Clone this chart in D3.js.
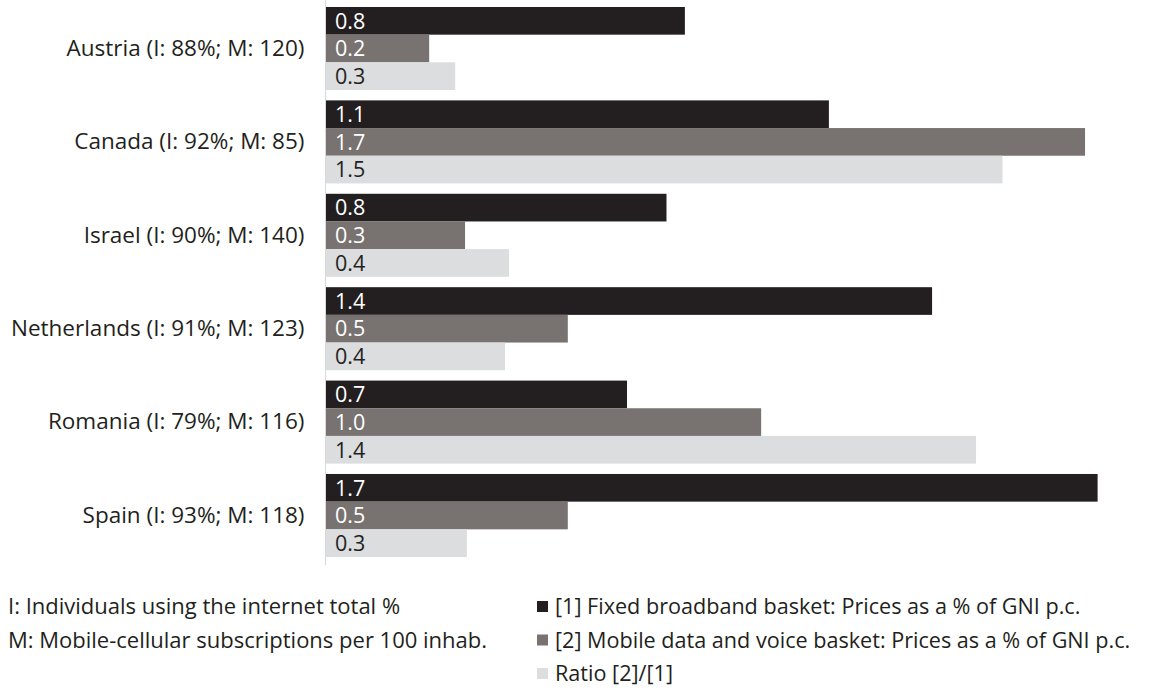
<!DOCTYPE html>
<html>
<head>
<meta charset="utf-8">
<script src="https://cdn.jsdelivr.net/npm/d3@7"></script>
<style>
  html, body { margin: 0; padding: 0; background: #ffffff; }
  svg { display: block; }
  text { font-family: "Open Sans", Lato, sans-serif; }
</style>
</head>
<body>
<svg id="chart" width="1150" height="700"></svg>
<script>
// Countries with internet use (I) and mobile subscriptions (M)
const countries = [
  "Austria (I: 88%; M: 120)",
  "Canada (I: 92%; M: 85)",
  "Israel (I: 90%; M: 140)",
  "Netherlands (I: 91%; M: 123)",
  "Romania (I: 79%; M: 116)",
  "Spain (I: 93%; M: 118)"
];
// [1] Fixed broadband basket, % of GNI p.c.
const fixedBroadband = [0.80, 1.121, 0.759, 1.351, 0.671, 1.72];
// [2] Mobile data and voice basket, % of GNI p.c.
const mobileBasket = [0.23, 1.692, 0.31, 0.539, 0.97, 0.539];
// Ratio [2]/[1]
const ratio = [0.288, 1.508, 0.408, 0.399, 1.449, 0.314];

const seriesNames = [
  "[1] Fixed broadband basket: Prices as a % of GNI p.c.",
  "[2] Mobile data and voice basket: Prices as a % of GNI p.c.",
  "Ratio [2]/[1]"
];
const notes = [
  "I: Individuals using the internet total %",
  "M: Mobile-cellular subscriptions per 100 inhab."
];

const seriesValues = [fixedBroadband, mobileBasket, ratio];
const fills = ["#231f20", "#787271", "#dcdddf"];
const labelFills = ["#ffffff", "#ffffff", "#231f20"];

const svg = d3.select("#chart");

const x = d3.scaleLinear().domain([0, 1.72]).range([326, 1097.6]);
const y = d3.scaleBand().domain(countries).range([1.8, 562.2])
  .paddingInner(0.111).paddingOuter(0.0555);
const ySub = d3.scaleBand().domain(d3.range(seriesValues.length))
  .range([0, y.bandwidth()]);

const groups = svg.append("g").selectAll("g")
  .data(countries)
  .join("g")
  .attr("transform", d => `translate(0,${y(d)})`);

seriesValues.forEach((vals, s) => {
  groups.append("rect")
    .attr("x", x(0))
    .attr("y", ySub(s))
    .attr("width", (d, i) => x(vals[i]) - x(0))
    .attr("height", ySub.bandwidth())
    .attr("fill", fills[s]);
  groups.append("text")
    .attr("x", x(0) + 9)
    .attr("y", ySub(s) + ySub.bandwidth() / 2)
    .attr("dy", "0.36em")
    .attr("font-size", 21.5)
    .attr("fill", labelFills[s])
    .text((d, i) => d3.format(".1f")(vals[i]));
});

// Category axis on the left
const yAxis = d3.axisLeft(y).tickSize(0).tickPadding(21);
const axisG = svg.append("g").attr("transform", `translate(${x(0) - 0.5},0)`).call(yAxis);
axisG.select(".domain").attr("stroke", "#d9d9d9").attr("stroke-width", 1)
  .attr("d", `M0,0V565`);
axisG.selectAll("text")
  .attr("font-size", 22.5)
  .attr("fill", "#231f20")
  .attr("font-family", "'Open Sans', Lato, sans-serif");

// Footnotes
svg.append("g").selectAll("text")
  .data(notes)
  .join("text")
  .attr("x", 8)
  .attr("y", (d, i) => 614 + i * 33.5)
  .attr("font-size", 22)
  .attr("fill", "#231f20")
  .text(d => d);

// Legend
const legend = svg.append("g").selectAll("g")
  .data(seriesNames)
  .join("g")
  .attr("transform", (d, i) => `translate(537,${601 + i * 33.5})`);
legend.append("rect")
  .attr("width", 11).attr("height", 11)
  .attr("fill", (d, i) => fills[i]);
legend.append("text")
  .attr("x", 18)
  .attr("y", 13)
  .attr("font-size", 21.6)
  .attr("fill", "#231f20")
  .text(d => d);
</script>
</body>
</html>
